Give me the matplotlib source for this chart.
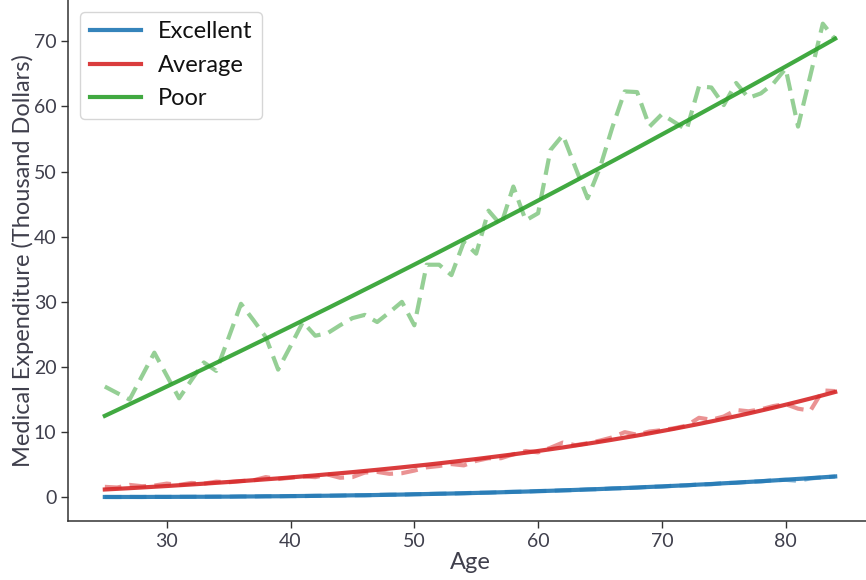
import numpy as np
import matplotlib.pyplot as plt

plt.rcParams['font.family'] = ['Lato', 'DejaVu Sans']

ages = list(range(25, 85))

# Fitted expenditure by health status (thousand dollars)
fit_excellent = [0.05, 0.05, 0.05, 0.05, 0.06, 0.06, 0.07, 0.08, 0.08, 0.09,
                 0.10, 0.12, 0.13, 0.15, 0.16, 0.18, 0.20, 0.22, 0.24, 0.27,
                 0.30, 0.32, 0.35, 0.39, 0.42, 0.46, 0.50, 0.54, 0.58, 0.62,
                 0.67, 0.72, 0.77, 0.83, 0.88, 0.94, 1.00, 1.06, 1.13, 1.20,
                 1.27, 1.35, 1.42, 1.50, 1.59, 1.67, 1.76, 1.85, 1.95, 2.04,
                 2.15, 2.25, 2.36, 2.47, 2.58, 2.70, 2.82, 2.94, 3.07, 3.20]
fit_average = [1.20, 1.30, 1.40, 1.51, 1.62, 1.73, 1.85, 1.97, 2.09, 2.22,
               2.35, 2.48, 2.62, 2.76, 2.90, 3.05, 3.21, 3.36, 3.53, 3.69,
               3.86, 4.04, 4.22, 4.41, 4.60, 4.80, 5.00, 5.21, 5.43, 5.65,
               5.87, 6.11, 6.35, 6.59, 6.85, 7.11, 7.38, 7.65, 7.94, 8.23,
               8.53, 8.84, 9.16, 9.48, 9.82, 10.17, 10.52, 10.89, 11.26, 11.65,
               12.05, 12.45, 12.87, 13.31, 13.75, 14.21, 14.68, 15.16, 15.66, 16.17]
fit_poor = [12.50, 13.39, 14.29, 15.19, 16.09, 17.00, 17.90, 18.81, 19.72, 20.64,
            21.56, 22.48, 23.41, 24.33, 25.27, 26.20, 27.14, 28.08, 29.02, 29.97,
            30.92, 31.88, 32.83, 33.79, 34.76, 35.72, 36.69, 37.66, 38.64, 39.62,
            40.60, 41.58, 42.57, 43.56, 44.55, 45.55, 46.55, 47.55, 48.56, 49.57,
            50.58, 51.59, 52.61, 53.63, 54.66, 55.69, 56.72, 57.75, 58.79, 59.83,
            60.87, 61.91, 62.96, 64.01, 65.07, 66.13, 67.19, 68.26, 69.32, 70.40]

# Observed mean expenditure by age
obs_excellent = [0.05, 0.04, 0.06, 0.05, 0.07, 0.06, 0.08, 0.07, 0.09, 0.10,
                 0.09, 0.13, 0.12, 0.16, 0.15, 0.19, 0.18, 0.23, 0.24, 0.26,
                 0.31, 0.30, 0.37, 0.41, 0.40, 0.48, 0.50, 0.56, 0.57, 0.63,
                 0.70, 0.71, 0.80, 0.84, 0.87, 0.96, 0.98, 1.08, 1.10, 1.22,
                 1.24, 1.37, 1.40, 1.48, 1.62, 1.64, 1.79, 1.82, 1.97, 2.00,
                 2.18, 2.22, 2.39, 2.43, 2.62, 2.68, 2.52, 2.90, 3.05, 3.18]
obs_average = [1.6, 1.5, 1.9, 1.7, 1.8, 2.1, 1.9, 2.2, 2.1, 2.4,
               2.3, 2.5, 2.6, 3.1, 2.8, 3.0, 3.2, 3.1, 3.5, 3.0,
               3.1, 3.8, 3.9, 3.6, 3.7, 4.1, 4.6, 4.8, 5.1, 4.9,
               5.6, 6.0, 6.0, 6.6, 7.1, 6.9, 7.6, 8.4, 8.0, 8.3,
               8.7, 9.2, 10.0, 9.6, 10.1, 10.3, 10.6, 11.0, 12.2, 11.9,
               12.4, 13.4, 13.2, 13.5, 14.0, 14.3, 13.6, 13.3, 16.4, 16.3]
obs_poor = [17.0, 16.0, 15.0, 18.6, 22.2, 18.7, 15.2, 18.0, 20.7, 19.4,
            24.5, 29.7, 27.2, 24.6, 19.6, 23.2, 26.9, 24.8, 25.2, 26.4,
            27.5, 28.0, 26.9, 28.4, 30.0, 26.4, 35.7, 35.7, 34.1, 39.2,
            37.4, 44.0, 41.8, 47.7, 42.5, 43.6, 53.3, 55.6, 50.7, 45.9,
            50.6, 56.8, 62.3, 62.2, 56.9, 58.8, 57.6, 56.4, 63.1, 62.9,
            60.2, 63.6, 61.3, 62.0, 63.5, 65.8, 56.9, 64.8, 72.7, 70.3]

labels = ['Excellent', 'Average', 'Poor']
colors = ['tab:blue', 'tab:red', 'tab:green']
fits = [fit_excellent, fit_average, fit_poor]
observed = [obs_excellent, obs_average, obs_poor]

text_color = '#3f3f4c'

fig = plt.figure(figsize=(8.66, 5.8), dpi=100)
ax = fig.add_axes([68.3 / 866, 59.3 / 580, 803.4 / 866, 520.7 / 580])

for lab, col, fit, obs in zip(labels, colors, fits, observed):
    ax.plot(ages, obs, color=col, lw=3, ls=(0, (4, 2)), alpha=0.5)
    ax.plot(ages, fit, color=col, lw=3, alpha=0.9, label=lab)

ax.margins(x=0.05, y=0.05)
ax.set_xticks([30, 40, 50, 60, 70, 80])
ax.set_yticks([0, 10, 20, 30, 40, 50, 60, 70])

for side in ['top', 'right']:
    ax.spines[side].set_visible(False)
for side in ['left', 'bottom']:
    ax.spines[side].set_color('#333333')
    ax.spines[side].set_linewidth(1.1)

ax.tick_params(axis='both', labelsize=14, colors='#333333', labelcolor=text_color,
               length=5, width=1)
ax.set_xlabel('Age', fontsize=17, color=text_color, labelpad=2)
ax.set_ylabel('Medical Expenditure (Thousand Dollars)', fontsize=17,
              color=text_color, labelpad=0)

leg = ax.legend(loc='upper left', fontsize=17, frameon=True, handlelength=2.2,
                borderpad=0.4, labelspacing=0.53, handletextpad=0.7,
                bbox_to_anchor=(0.0, 1.0))
leg.get_frame().set_edgecolor('#cccccc')
for line in leg.get_lines():
    line.set_linewidth(3)
for t in leg.get_texts():
    t.set_color('#111111')

fig.savefig('out.png', dpi=100)
